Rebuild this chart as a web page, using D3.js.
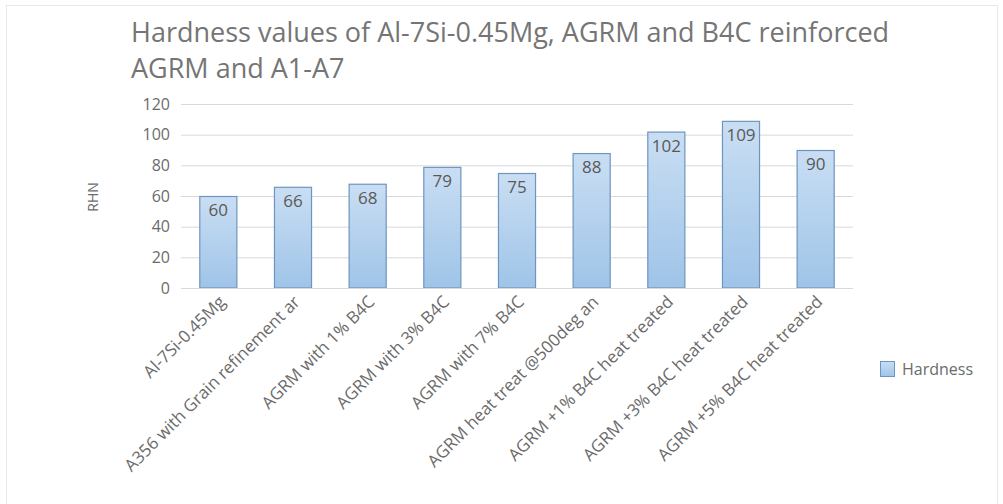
<!DOCTYPE html>
<html><head><meta charset="utf-8">
<script src="https://cdn.jsdelivr.net/npm/d3@7"></script>
<style>
html,body{margin:0;padding:0;background:#fff;}
svg{display:block;}
text{font-family:"Open Sans",sans-serif;}
</style></head><body>
<svg id="chart" width="1003" height="504"></svg>
<script>
const categories = ["Al-7Si-0.45Mg","A356 with Grain refinement ar","AGRM with 1% B4C","AGRM with 3% B4C","AGRM with 7% B4C","AGRM heat treat @500deg an","AGRM +1% B4C heat treated","AGRM +3% B4C heat treated","AGRM +5% B4C heat treated"];
const hardness = [60,66,68,79,75,88,102,109,90];
const yTicks = [0,20,40,60,80,100,120];
const seriesName = "Hardness";
const titleLines = ["Hardness values of Al-7Si-0.45Mg, AGRM and B4C reinforced","AGRM and A1-A7"];
const yTitle = "RHN";

const svg = d3.select("#chart");
const W = 1003, H = 504;
const m = {left:181, right:150, top:104, bottom:216};
const x = d3.scaleBand().domain(categories).range([m.left, W-m.right]).paddingInner(0.49).paddingOuter(0.245);
const y = d3.scaleLinear().domain([0,120]).range([H-m.bottom, m.top]);

const defs = svg.append("defs");
const g = defs.append("linearGradient").attr("id","bg").attr("x1",0).attr("y1",0).attr("x2",0).attr("y2",1);
g.append("stop").attr("offset","0%").attr("stop-color","#c9def3");
g.append("stop").attr("offset","100%").attr("stop-color","#9fc4e8");

svg.append("rect").attr("x",6.5).attr("y",5.5).attr("width",W-12).attr("height",H-5).attr("fill","#fff").attr("stroke","#e8e8e8");

// title
svg.append("text").attr("x",131).attr("y",42).attr("font-size",27).attr("fill","#757575")
  .selectAll("tspan").data(titleLines).join("tspan").attr("x",131).attr("dy",(d,i)=>i?36:0).text(d=>d);

// grid
const yAxis = d3.axisLeft(y).tickValues(yTicks).tickSize(-(W-m.left-m.right)).tickPadding(11);
const ga = svg.append("g").attr("transform",`translate(${m.left},0)`).call(yAxis);
ga.select(".domain").remove();
ga.selectAll(".tick line").attr("stroke","#d9d9d9").attr("stroke-width",1);
ga.selectAll(".tick text").attr("font-size",16).attr("fill","#6b6b6b").style("font-family",'"Open Sans",sans-serif');

svg.append("text").attr("transform",`translate(98,197) rotate(-90)`).attr("text-anchor","middle")
  .attr("font-size",14).attr("fill","#6b6b6b").text(yTitle);

// bars
svg.append("g").selectAll("rect").data(hardness).join("rect")
  .attr("x",(d,i)=>x(categories[i])+0.5).attr("y",d=>y(d)+0.5)
  .attr("width",x.bandwidth()-1).attr("height",d=>y(0)-y(d)-0.5)
  .attr("fill","url(#bg)").attr("stroke","#6e95bf").attr("stroke-width",1.2);

// labels
svg.append("g").selectAll("text").data(hardness).join("text")
  .attr("x",(d,i)=>x(categories[i])+x.bandwidth()/2).attr("y",d=>y(d)+20)
  .attr("text-anchor","middle").attr("font-size",17).attr("fill","#595959").text(d=>d);

// x axis baseline
svg.append("line").attr("x1",m.left).attr("x2",W-m.right).attr("y1",y(0)+0.5).attr("y2",y(0)+0.5).attr("stroke","#d9d9d9");

const xAxis = d3.axisBottom(x).tickSize(0).tickPadding(0);
const gx = svg.append("g").attr("transform",`translate(0,${y(0)})`).call(xAxis);
gx.select(".domain").remove();
gx.selectAll(".tick text").attr("font-size",17).attr("fill","#6b6b6b")
  .style("font-family",'"Open Sans",sans-serif')
  .attr("text-anchor","end").attr("dy",0).attr("y",0)
  .attr("transform","translate(8,15) rotate(-45)");

// legend
const lg = svg.append("g").attr("transform","translate(880,361)");
lg.append("rect").attr("x",0.5).attr("y",0.5).attr("width",14).attr("height",15).attr("fill","url(#bg)").attr("stroke","#6e95bf");
lg.append("text").attr("x",22).attr("y",14).attr("font-size",16).attr("fill","#6b6b6b").text(seriesName);
</script>
</body></html>
